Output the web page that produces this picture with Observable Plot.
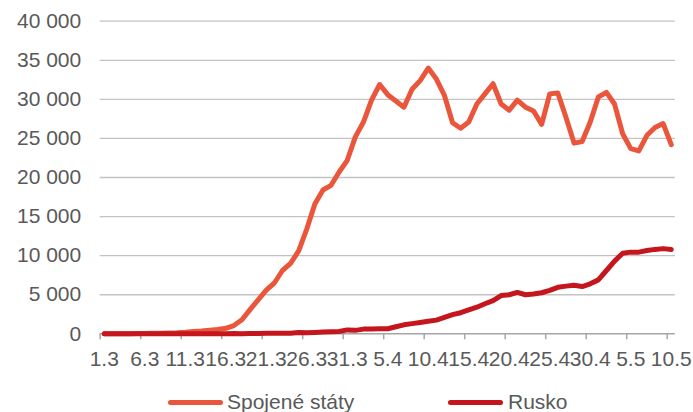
<!DOCTYPE html>
<html>
<head>
<meta charset="utf-8">
<script src="https://cdn.jsdelivr.net/npm/d3@7"></script>
<script src="https://cdn.jsdelivr.net/npm/@observablehq/plot@0.6"></script>
<style>
  body { margin: 0; background: #fff; font-family: "Liberation Sans", Arial, sans-serif; }
  #legend { position: relative; width: 693px; height: 40px; }
  .sw { position: absolute; top: 27.5px; width: 55px; height: 5px; border-radius: 2.5px; }
  .lb { position: absolute; top: 18.7px; font-size: 21px; line-height: 21px; color: #595959; white-space: nowrap; }
</style>
</head>
<body>
<div id="chart"></div>
<div id="legend"></div>
<script>
// Daily new cases, 1 March – 10 May 2020
const seriesNames = ["Spojené státy", "Rusko"];
const seriesColors = ["#EA563B", "#C4161C"];

const usCases = [
  3, 5, 10, 20, 30, 40, 60, 80, 100, 130,
  200, 300, 350, 450, 550, 700, 1060, 1800, 3100, 4350,
  5600, 6500, 8100, 9000, 10600, 13400, 16600, 18400, 19000, 20700,
  22200, 25200, 27100, 29900, 31900, 30600, 29800, 29000, 31300, 32400,
  34000, 32600, 30500, 27000, 26300, 27100, 29400, 30700, 32000, 29400,
  28600, 29900, 29000, 28500, 26800, 30700, 30800, 27700, 24400, 24600,
  27100, 30300, 30900, 29400, 25600, 23700, 23400, 25400, 26400, 26900,
  24200
];

const ruCases = [
  0, 0, 0, 0, 0, 1, 0, 2, 0, 0,
  1, 3, 6, 0, 0, 14, 30, 20, 50, 50,
  55, 60, 70, 60, 160, 130, 180, 230, 270, 300,
  500, 440, 600, 600, 640, 650, 900, 1150, 1300, 1450,
  1600, 1750, 2100, 2450, 2700, 3050, 3400, 3850, 4250, 4900,
  5000, 5300, 5000, 5100, 5250, 5550, 5950, 6100, 6200, 6050,
  6400, 6900, 8100, 9300, 10300, 10450, 10450, 10650, 10800, 10900,
  10800
];

const yTicks = [0, 5000, 10000, 15000, 20000, 25000, 30000, 35000, 40000];

// one category per day
const dates = d3.utcDay.range(new Date(Date.UTC(2020, 2, 1)), new Date(Date.UTC(2020, 4, 11)));
const labelDates = dates.filter((d, i) => i % 5 === 0);
const tickBounds = labelDates.map(d => d3.utcHour.offset(d, -12));

const fmtThousands = d => d3.format(",")(d).replace(/,/g, "\u00a0");
const fmtDay = d => `${d.getUTCDate()}.${d.getUTCMonth() + 1}`;

const textColor = "#595959";

const chart = Plot.plot({
  width: 693,
  height: 372,
  marginTop: 20.7,
  marginBottom: 38.7,
  marginLeft: 99.7,
  marginRight: 18.2,
  style: { fontFamily: "Liberation Sans, Arial, sans-serif", fontSize: "21px", color: textColor, background: "#fff" },
  x: { type: "utc", domain: [d3.utcHour.offset(dates[0], -12), d3.utcHour.offset(dates[dates.length - 1], 12)] },
  y: { domain: [0, 40000] },
  marks: [
    Plot.ruleY(yTicks.slice(1), { stroke: "#c3c3c3", strokeWidth: 1.3 }),
    Plot.ruleY([0], { stroke: "#a6a6a6", strokeWidth: 1.5 }),
    Plot.axisY(yTicks, { tickSize: 0, tickPadding: 19, tickFormat: fmtThousands, label: null, fill: textColor }),
    Plot.axisX(tickBounds, { tickSize: 6, fill: "none", stroke: "#a6a6a6", strokeWidth: 1.5, label: null }),
    Plot.axisX(labelDates, { tickSize: 0, tickPadding: 17, tickFormat: fmtDay, label: null, fill: textColor }),
    Plot.line(usCases, { x: (d, i) => dates[i], y: d => d, stroke: seriesColors[0], strokeWidth: 5, strokeLinejoin: "round", strokeLinecap: "round" }),
    Plot.line(ruCases, { x: (d, i) => dates[i], y: d => d, stroke: seriesColors[1], strokeWidth: 5, strokeLinejoin: "round", strokeLinecap: "round" })
  ]
});
document.getElementById("chart").append(chart);

// legend below the chart
const legend = document.getElementById("legend");
const legendPos = [{ sw: 168, lb: 227 }, { sw: 448, lb: 508 }];
seriesNames.forEach((name, i) => {
  const sw = document.createElement("div");
  sw.className = "sw";
  sw.style.left = legendPos[i].sw + "px";
  sw.style.background = seriesColors[i];
  const lb = document.createElement("div");
  lb.className = "lb";
  lb.style.left = legendPos[i].lb + "px";
  lb.textContent = name;
  legend.append(sw, lb);
});
</script>
</body>
</html>
